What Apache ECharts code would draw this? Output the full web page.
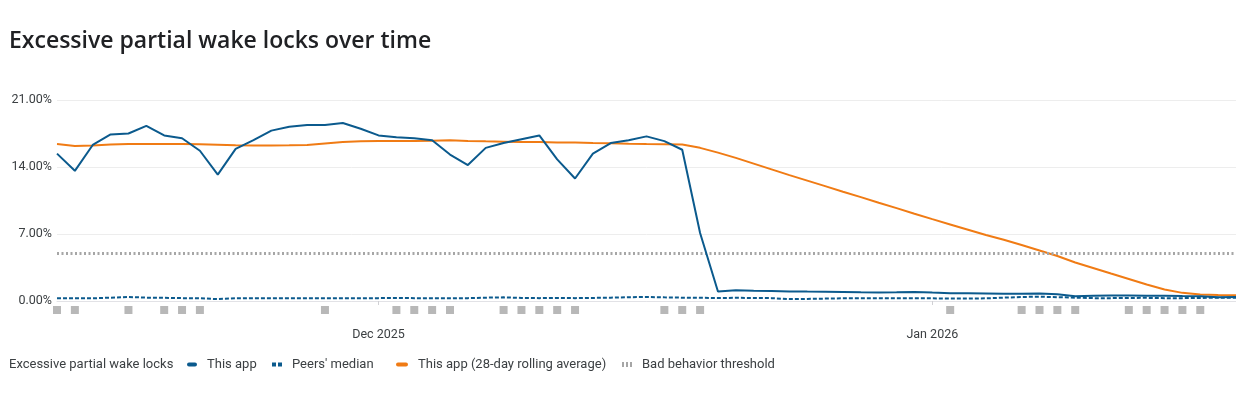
<!DOCTYPE html>
<html>
<head>
<meta charset="utf-8">
<script src="https://cdn.jsdelivr.net/npm/echarts@6/dist/echarts.min.js"></script>
<style>
html,body{margin:0;padding:0;background:#fff;}
#chart{width:1236px;height:396px;}
</style>
</head>
<body>
<div id="chart"></div>
<script>
var dates = [
 '2025-11-13','2025-11-14','2025-11-15','2025-11-16','2025-11-17','2025-11-18','2025-11-19','2025-11-20','2025-11-21','2025-11-22',
 '2025-11-23','2025-11-24','2025-11-25','2025-11-26','2025-11-27','2025-11-28','2025-11-29','2025-11-30',
 '2025-12-01','2025-12-02','2025-12-03','2025-12-04','2025-12-05','2025-12-06','2025-12-07','2025-12-08','2025-12-09','2025-12-10',
 '2025-12-11','2025-12-12','2025-12-13','2025-12-14','2025-12-15','2025-12-16','2025-12-17','2025-12-18','2025-12-19','2025-12-20',
 '2025-12-21','2025-12-22','2025-12-23','2025-12-24','2025-12-25','2025-12-26','2025-12-27','2025-12-28','2025-12-29','2025-12-30','2025-12-31',
 '2026-01-01','2026-01-02','2026-01-03','2026-01-04','2026-01-05','2026-01-06','2026-01-07','2026-01-08','2026-01-09','2026-01-10',
 '2026-01-11','2026-01-12','2026-01-13','2026-01-14','2026-01-15','2026-01-16','2026-01-17','2026-01-18'
];
var monthLabels = {'2025-12-01':'Dec 2025','2026-01-01':'Jan 2026'};

var thisApp = [
 15.4,13.6,16.3,17.4,17.5,18.3,17.3,17.0,15.7,13.2,
 15.9,16.8,17.8,18.2,18.4,18.4,18.6,18.0,
 17.3,17.1,17.0,16.8,15.3,14.2,16.0,16.5,16.9,17.3,
 14.8,12.8,15.4,16.5,16.8,17.2,16.7,15.8,7.1,1.0,
 1.12,1.08,1.05,1.0,0.98,0.97,0.95,0.92,0.9,0.92,0.95,
 0.88,0.82,0.8,0.78,0.75,0.75,0.78,0.7,0.5,0.55,
 0.58,0.58,0.55,0.55,0.52,0.5,0.4,0.42
];
var peersMedian = [
 0.3,0.28,0.28,0.35,0.42,0.35,0.33,0.3,0.28,0.2,
 0.28,0.3,0.3,0.3,0.3,0.28,0.3,0.3,
 0.3,0.32,0.3,0.3,0.28,0.3,0.35,0.38,0.32,0.3,
 0.32,0.3,0.32,0.35,0.4,0.42,0.38,0.35,0.33,0.32,
 0.33,0.32,0.3,0.2,0.22,0.25,0.28,0.28,0.3,0.28,0.28,
 0.28,0.25,0.25,0.28,0.35,0.42,0.45,0.4,0.35,0.3,
 0.3,0.32,0.33,0.3,0.3,0.32,0.35,0.35
];
var rollingAvg = [
 16.4,16.2,16.25,16.35,16.4,16.4,16.4,16.4,16.37,16.33,
 16.28,16.25,16.25,16.27,16.3,16.45,16.6,16.68,
 16.72,16.72,16.72,16.75,16.8,16.72,16.68,16.65,16.62,16.6,
 16.57,16.55,16.5,16.47,16.43,16.4,16.38,16.35,16.0,15.5,
 14.95,14.35,13.75,13.15,12.58,12.0,11.42,10.85,10.27,9.7,9.12,
 8.55,8.0,7.45,6.9,6.4,5.85,5.28,4.7,4.02,3.45,
 2.87,2.3,1.72,1.2,0.85,0.68,0.62,0.6
];
var threshold = 5;
var markerDays = [0,1,4,6,7,8,15,19,20,21,22,25,26,27,28,29,34,35,36,50,54,55,56,57,60,61,62,63,64];
var markerLevel = -0.94;
var yTicks = {min:0, max:21, interval:7};

var BLUE = '#0b5a8d', ORANGE = '#f07b14', GRAY = '#a6a6a6';

var markerData = markerDays.map(function(d){ return [d, markerLevel]; });

var legendBase = {
  top: 353, itemWidth: 10, itemHeight: 4, itemGap: 0,
  textStyle: {color:'#3c4043', fontSize:13, fontFamily:'Roboto', padding:[0,0,0,5]},
  itemStyle: {borderWidth: 0},
  selectedMode: false
};
function legendAt(left, name, icon, w, h) {
  var o = Object.assign({}, legendBase, {left: left, data: [{name: name, icon: icon}]});
  if (w) o.itemWidth = w;
  if (h) o.itemHeight = h;
  return o;
}

var chart = echarts.init(document.getElementById('chart'), null, {renderer:'canvas'});
chart.setOption({
  animation: false,
  title: [
    {text:'Excessive partial wake locks over time', left: 4, top: 25,
     textStyle:{fontFamily:'Open Sans', fontSize:23, fontWeight:600, color:'#202124'}},
    {text:'Excessive partial wake locks', left: 4, top: 353,
     textStyle:{fontFamily:'Roboto', fontSize:13, fontWeight:'normal', color:'#3c4043'}}
  ],
  legend: [
    legendAt(182, 'This app', 'path://M2,0 L8,0 A2,2 0 0 1 8,4 L2,4 A2,2 0 0 1 2,0 Z', 10, 4),
    legendAt(267, "Peers' median", 'path://M0,0h4v4h-4z M6,0h4v4h-4z', 10, 4),
    legendAt(391, 'This app (28-day rolling average)', 'path://M2,0 L10,0 A2,2 0 0 1 10,4 L2,4 A2,2 0 0 1 2,0 Z', 12, 4),
    legendAt(617, 'Bad behavior threshold', 'path://M0,0h2v5h-2z M4,0h2v5h-2z M8,0h2v5h-2z', 10, 5)
  ],
  grid: {left: 57, right: -2, top: 100, bottom: 95, containLabel: false},
  xAxis: {
    type: 'category', data: dates, boundaryGap: false, offset: 17,
    axisLine: {show: true, lineStyle: {color:'#e2e2e6', width:1}},
    axisTick: {show: true, length: 4, lineStyle:{color:'#d0d0d4'},
      interval: function(i, v){ return !!monthLabels[v]; }},
    axisLabel: {show: true, margin: 10, color:'#3c4043', fontSize: 12.5, fontFamily:'Roboto',
      interval: function(i, v){ return !!monthLabels[v]; },
      formatter: function(v){ return monthLabels[v] || ''; }},
    splitLine: {show: false}
  },
  yAxis: {
    type: 'value', min: yTicks.min, max: yTicks.max, interval: yTicks.interval,
    axisLine: {show:false}, axisTick: {show:false},
    axisLabel: {margin: 5, color:'#3c4043', fontSize: 12.5, fontFamily:'Roboto',
      formatter: function(v){ return v.toFixed(2) + '%'; }},
    splitLine: {show:true, lineStyle:{color:'#ededed', width:1}}
  },
  series: [
    {name:'Bad behavior threshold', type:'line', data: [], color: GRAY, symbol:'none',
     markLine: {silent:true, symbol:['none','none'], label:{show:false},
       lineStyle:{color: GRAY, width:3, type:[2,2.5]},
       data: [{yAxis: threshold}]}},
    {name:'markers', type:'scatter', data: markerData, symbol:'rect', symbolSize: 8,
     itemStyle:{color: GRAY}, clip: false, silent: true, z: 1},
    {name:"Peers' median", type:'line', data: peersMedian, color: BLUE, symbol:'none',
     lineStyle:{color: BLUE, width:2, type:[4,2]}, z: 3},
    {name:'This app (28-day rolling average)', type:'line', data: rollingAvg, color: ORANGE, symbol:'none',
     lineStyle:{color: ORANGE, width:2}, z: 4},
    {name:'This app', type:'line', data: thisApp, color: BLUE, symbol:'none',
     lineStyle:{color: BLUE, width:2}, z: 5}
  ]
});
</script>
</body>
</html>
